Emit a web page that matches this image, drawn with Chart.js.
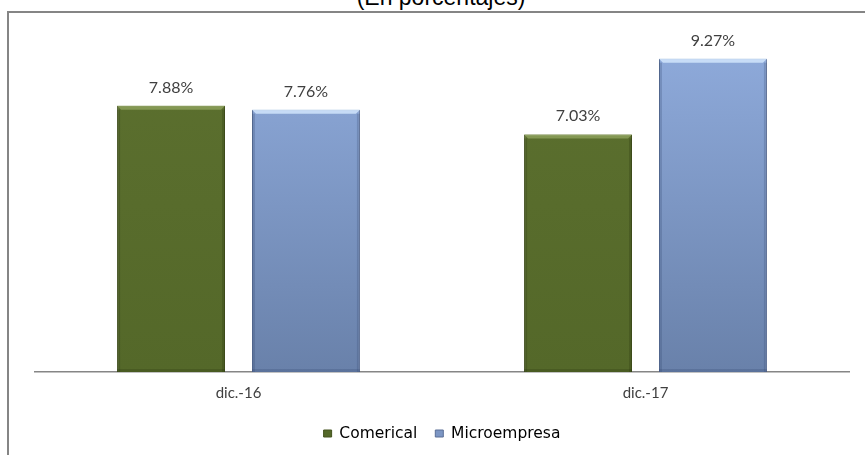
<!DOCTYPE html>
<html>
<head>
<meta charset="utf-8">
<script src="https://cdn.jsdelivr.net/npm/chart.js@4/dist/chart.umd.min.js"></script>
<style>
  html, body { margin: 0; padding: 0; background: #fff; overflow: hidden; }
  #wrap { position: relative; width: 865px; height: 455px; }
  #marco { position: absolute; left: 7px; top: 11px; right: 0; bottom: 0;
           border-left: 2px solid #858585; border-top: 2px solid #858585; }
  #titulo { position: absolute; left: 0; width: 882px; top: -16px; text-align: center;
            font: 23px "Liberation Sans", Arial, sans-serif; color: #000; }
  canvas { position: absolute; left: 0; top: 0; }
</style>
</head>
<body>
<div id="wrap">
  <div id="titulo">(En porcentajes)</div>
  <div id="marco"></div>
  <canvas id="grafico" width="865" height="455"></canvas>
</div>
<script>
const periodos = ['dic.-16', 'dic.-17'];
const comercial = [7.88, 7.03];
const microempresa = [7.76, 9.27];
const nombresSeries = ['Comerical', 'Microempresa'];

// colores de las barras (arriba -> abajo)
const coloresVerde = ['#5c702f', '#546829'];
const coloresAzul = ['#90acdd', '#6981aa'];

function degradado(colores) {
    return (context) => {
        const chart = context.chart;
        const area = chart.chartArea;
        if (!area) return colores[0];
        const g = chart.ctx.createLinearGradient(0, area.top, 0, area.bottom);
        g.addColorStop(0, colores[0]);
        g.addColorStop(1, colores[1]);
        return g;
    };
}

// bisel y etiquetas encima de cada barra
const etiquetasBarras = {
    id: 'etiquetasBarras',
    afterDatasetsDraw(chart) {
        const ctx = chart.ctx;
        chart.data.datasets.forEach((ds, i) => {
            const meta = chart.getDatasetMeta(i);
            meta.data.forEach((bar, j) => {
                const w = bar.width;
                const x0 = bar.x - w / 2, x1 = bar.x + w / 2;
                const top = bar.y, bottom = bar.base;
                ctx.save();
                // borde superior claro
                ctx.fillStyle = i === 0 ? 'rgba(150,170,100,0.7)' : 'rgba(205,225,250,0.9)';
                ctx.beginPath();
                ctx.moveTo(x0, top);
                ctx.lineTo(x1, top);
                ctx.lineTo(x1 - 4, top + 4);
                ctx.lineTo(x0 + 4, top + 4);
                ctx.closePath();
                ctx.fill();
                // lados oscuros
                ctx.fillStyle = i === 0 ? 'rgba(40,50,15,0.25)' : 'rgba(50,70,110,0.25)';
                ctx.fillRect(x0, top + 4, 3, bottom - top - 4);
                ctx.fillRect(x1 - 3, top + 4, 3, bottom - top - 4);
                ctx.fillRect(x0, bottom - 3, w, 3);
                ctx.restore();

                ctx.save();
                ctx.font = '16px Lato, "Open Sans", sans-serif';
                ctx.fillStyle = '#404040';
                ctx.textAlign = 'center';
                ctx.textBaseline = 'alphabetic';
                ctx.fillText(ds.data[j].toFixed(2) + '%', bar.x, top - 13);
                ctx.restore();
            });
        });
    }
};

const grafico = new Chart(document.getElementById('grafico').getContext('2d'), {
    type: 'bar',
    data: {
        labels: periodos,
        datasets: [
            {
                label: nombresSeries[0],
                data: comercial,
                backgroundColor: degradado(coloresVerde),
                borderColor: '#44531e',
                borderWidth: 1
            },
            {
                label: nombresSeries[1],
                data: microempresa,
                backgroundColor: degradado(coloresAzul),
                borderColor: '#5a6f96',
                borderWidth: 1
            }
        ]
    },
    options: {
        responsive: false,
        animation: false,
        categoryPercentage: 0.663,
        barPercentage: 0.8,
        layout: { padding: { left: 35, right: 16, top: 34, bottom: 3.75 } },
        plugins: {
            title: { display: false },
            tooltip: { enabled: false },
            legend: {
                position: 'bottom',
                labels: {
                    boxWidth: 8,
                    boxHeight: 7,
                    padding: 18,
                    color: '#000',
                    font: { family: '"DejaVu Sans", sans-serif', size: 15.5 },
                    generateLabels(chart) {
                        return nombresSeries.map((n, i) => ({
                            text: n,
                            fillStyle: i === 0 ? '#546829' : '#7c96c4',
                            strokeStyle: i === 0 ? '#44531e' : '#5a6f96',
                            lineWidth: 1,
                            datasetIndex: i
                        }));
                    }
                }
            }
        },
        scales: {
            x: {
                grid: { display: false, drawTicks: false },
                border: { display: true, color: '#868686', width: 1.5 },
                ticks: {
                    padding: 12,
                    color: '#404040',
                    font: { family: 'Lato, "Open Sans", sans-serif', size: 15 }
                },
                afterFit(scale) { scale.height = 35.75; }
            },
            y: {
                display: false,
                min: 0,
                max: 10
            }
        }
    },
    plugins: [etiquetasBarras]
});
</script>
</body>
</html>
